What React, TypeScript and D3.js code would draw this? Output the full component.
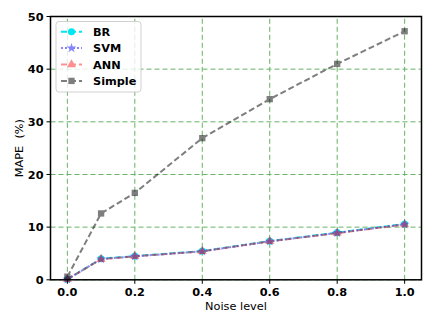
import * as d3 from "d3";
import { useEffect, useRef } from "react";

const noiseLevels = [0.0, 0.1, 0.2, 0.4, 0.6, 0.8, 1.0];
const brValues = [0.1, 4.0, 4.5, 5.45, 7.35, 8.95, 10.6];
const svmValues = [0.1, 3.95, 4.45, 5.4, 7.3, 8.9, 10.55];
const annValues = [0.1, 3.9, 4.45, 5.4, 7.3, 8.85, 10.5];
const simpleValues = [0.6, 12.6, 16.5, 26.9, 34.3, 41.0, 47.2];
const xTicks = [0.0, 0.2, 0.4, 0.6, 0.8, 1.0];
const yTicks = [0, 10, 20, 30, 40, 50];
const seriesNames = ["BR", "SVM", "ANN", "Simple"];

export default function App() {
  const ref = useRef<SVGSVGElement>(null);
  const width = 436,
    height = 327;
  const margin = { top: 16.5, right: 14.5, bottom: 48, left: 50.5 };

  useEffect(() => {
    const svg = d3.select(ref.current);
    svg.selectAll("*").remove();

    const x = d3
      .scaleLinear()
      .domain([-0.05, 1.05])
      .range([margin.left, width - margin.right]);
    const y = d3
      .scaleLinear()
      .domain([0, 50])
      .range([height - margin.bottom + 0.8, margin.top]);

    const font = "'DejaVu Sans', sans-serif";
    const fs = 11.3;
    const gridColor = "#66b366";

    // grid
    svg
      .append("g")
      .selectAll("line")
      .data(xTicks)
      .join("line")
      .attr("x1", (d) => x(d))
      .attr("x2", (d) => x(d))
      .attr("y1", y(0))
      .attr("y2", y(50))
      .attr("stroke", gridColor)
      .attr("stroke-width", 1)
      .attr("stroke-dasharray", "5,3");
    svg
      .append("g")
      .selectAll("line")
      .data(yTicks)
      .join("line")
      .attr("x1", x(-0.05))
      .attr("x2", x(1.05))
      .attr("y1", (d) => y(d))
      .attr("y2", (d) => y(d))
      .attr("stroke", gridColor)
      .attr("stroke-width", 1)
      .attr("stroke-dasharray", "5,3");

    const series = [
      { name: "BR", values: brValues, color: "#00e5ee", opacity: 1, dash: "6,3", marker: "circle" },
      { name: "SVM", values: svmValues, color: "#3333ff", opacity: 0.6, dash: "2,2", marker: "star" },
      { name: "ANN", values: annValues, color: "#ff2222", opacity: 0.5, dash: "6,3", marker: "triangle" },
      { name: "Simple", values: simpleValues, color: "#000000", opacity: 0.5, dash: "6,3", marker: "square" },
    ];

    const symbolOf = (m: string) =>
      m === "circle"
        ? d3.symbol(d3.symbolCircle, 40)
        : m === "star"
        ? d3.symbol(d3.symbolStar, 30)
        : m === "triangle"
        ? d3.symbol(d3.symbolTriangle, 36)
        : d3.symbol(d3.symbolSquare, 40);

    const line = d3
      .line<number>()
      .x((_, i) => x(noiseLevels[i]))
      .y((d) => y(d));

    series.forEach((s) => {
      const g = svg.append("g").attr("opacity", s.opacity);
      g.append("path")
        .attr("d", line(s.values))
        .attr("fill", "none")
        .attr("stroke", s.color)
        .attr("stroke-width", 2)
        .attr("stroke-dasharray", s.dash);
      g.selectAll("path.m")
        .data(s.values)
        .join("path")
        .attr("class", "m")
        .attr("d", symbolOf(s.marker)())
        .attr("transform", (d, i) => `translate(${x(noiseLevels[i])},${y(d)})`)
        .attr("fill", s.color);
    });

    // frame
    svg
      .append("rect")
      .attr("x", x(-0.05))
      .attr("y", y(50))
      .attr("width", x(1.05) - x(-0.05))
      .attr("height", y(0) - y(50))
      .attr("fill", "none")
      .attr("stroke", "#000")
      .attr("stroke-width", 1.5);

    // axes ticks
    const xAxis = svg.append("g").attr("transform", `translate(0,${y(0)})`);
    xTicks.forEach((t) => {
      xAxis
        .append("line")
        .attr("x1", x(t))
        .attr("x2", x(t))
        .attr("y1", 0)
        .attr("y2", 4)
        .attr("stroke", "#000")
        .attr("stroke-width", 1);
      xAxis
        .append("text")
        .attr("x", x(t))
        .attr("y", 16)
        .attr("text-anchor", "middle")
        .attr("font-family", font)
        .attr("font-weight", "bold")
        .attr("font-size", fs)
        .text(d3.format(".1f")(t));
    });
    const yAxis = svg.append("g").attr("transform", `translate(${x(-0.05)},0)`);
    yTicks.forEach((t) => {
      yAxis
        .append("line")
        .attr("x1", -4)
        .attr("x2", 0)
        .attr("y1", y(t))
        .attr("y2", y(t))
        .attr("stroke", "#000")
        .attr("stroke-width", 1);
      yAxis
        .append("text")
        .attr("x", -7)
        .attr("y", y(t) + 4.1)
        .attr("text-anchor", "end")
        .attr("font-family", font)
        .attr("font-weight", "bold")
        .attr("font-size", fs)
        .text(t);
    });

    svg
      .append("text")
      .attr("x", (x(-0.05) + x(1.05)) / 2)
      .attr("y", 310)
      .attr("text-anchor", "middle")
      .attr("font-family", font)
      .attr("font-size", fs)
      .text("Noise level");
    svg
      .append("text")
      .attr("transform", `translate(23,${(y(0) + y(50)) / 2}) rotate(-90)`)
      .attr("text-anchor", "middle")
      .attr("font-family", font)
      .attr("font-size", fs)
      .style("white-space", "pre")
      .text("MAPE  (%)");

    // legend
    const lg = svg.append("g");
    lg.append("rect")
      .attr("x", 56)
      .attr("y", 21.5)
      .attr("width", 85)
      .attr("height", 70.5)
      .attr("rx", 3)
      .attr("fill", "#fff")
      .attr("fill-opacity", 0.8)
      .attr("stroke", "#d0d0d0")
      .attr("stroke-width", 1);
    series.forEach((s, i) => {
      const cy = 31.7 + i * 16.4;
      const g = lg.append("g").attr("opacity", s.opacity);
      g.append("line")
        .attr("x1", 61)
        .attr("x2", 82)
        .attr("y1", cy)
        .attr("y2", cy)
        .attr("stroke", s.color)
        .attr("stroke-width", 2)
        .attr("stroke-dasharray", s.dash);
      g.append("path")
        .attr("d", symbolOf(s.marker)())
        .attr("transform", `translate(71.5,${cy})`)
        .attr("fill", s.color);
      lg.append("text")
        .attr("x", 93)
        .attr("y", cy + 4.1)
        .attr("font-family", font)
        .attr("font-weight", "bold")
        .attr("font-size", fs)
        .text(seriesNames[i]);
    });
  }, []);

  return (
    <svg
      ref={ref}
      width={width}
      height={height}
      style={{ position: "absolute", left: 0, top: 0, background: "#fff" }}
    />
  );
}
